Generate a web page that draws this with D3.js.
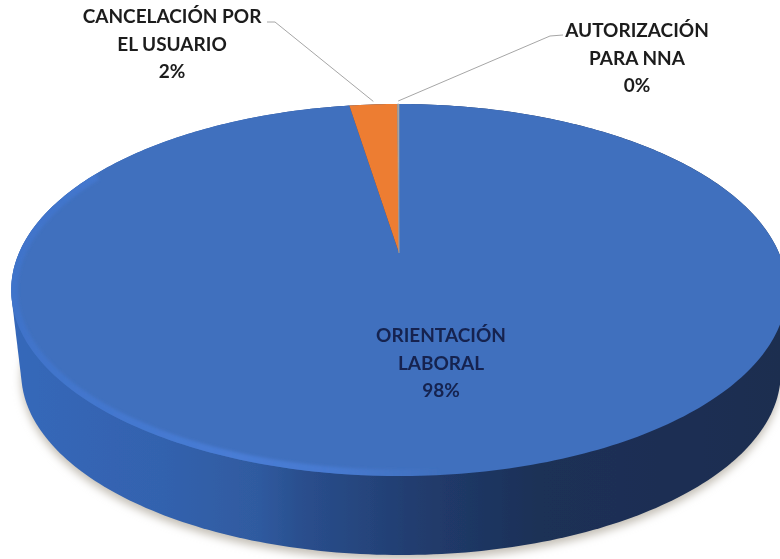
<!DOCTYPE html>
<html>
<head>
<meta charset="utf-8">
<script src="https://d3js.org/d3.v7.min.js"></script>
<style>
html,body{margin:0;padding:0;background:#fff;overflow:hidden;}
text{font-family:Lato,"Open Sans",sans-serif;font-weight:700;font-size:19px;text-anchor:middle;}
</style>
</head>
<body>
<div id="chart"></div>
<script>
var categories=[["ORIENTACIÓN","LABORAL"],["CANCELACIÓN POR","EL USUARIO"],["AUTORIZACIÓN","PARA NNA"]];
var values=[97.5,2.42,0.08];
var colors=["#3f6fbe","#ed7d31","#a5a5a5"];
var labelColors=["#14244f","#1c1c1c","#1c1c1c"];

var width=780,height=559;
var svg=d3.select("#chart").append("svg").attr("width",width).attr("height",height);
var defs=svg.append("defs");

//tilted disc: maps a point of the unit circle to the screen (the centre is not the middle of the ellipse)
var persp=0.199,faceX=399,faceK=380;
function project(angle,r){
    var u=Math.sin(angle)*r,v=Math.cos(angle)*r;
    return [faceX+faceK*u/(1+persp*v),(-128.3*v+253)/(1+persp*v)];
}
function toBottom(p){
    return [401+(p[0]-399)*380/388,373+(p[1]-290)*182/186];
}

var outline=d3.range(0,361,1).map(function(d){return project(d*Math.PI/180,1);});
var bottomOutline=outline.map(toBottom);
var line=d3.line();

var side=defs.append("linearGradient").attr("id","sideGrad")
    .attr("gradientUnits","userSpaceOnUse").attr("x1",10).attr("x2",780).attr("y1",0).attr("y2",0);
[[0,"#3668ba"],[0.2,"#3362ae"],[0.325,"#2f5a9f"],[0.377,"#2a4f8e"],[0.53,"#213c6e"],[0.69,"#1c3056"],[1,"#1a2d50"]].forEach(function(s){
    side.append("stop").attr("offset",s[0]).attr("stop-color",s[1]);
});
var rim=defs.append("linearGradient").attr("id","rimGrad")
    .attr("gradientUnits","userSpaceOnUse").attr("x1",10).attr("x2",780).attr("y1",0).attr("y2",0);
[[0,"#3f74cc",0.8],[0.3,"#4a7ed8",0.9],[0.42,"#4a7ed8",0.7],[0.56,"#4a7ed8",0]].forEach(function(s){
    rim.append("stop").attr("offset",s[0]).attr("stop-color",s[1]).attr("stop-opacity",s[2]);
});
function blur(id,dev){
    defs.append("filter").attr("id",id).attr("x","-10%").attr("y","-10%").attr("width","120%").attr("height","120%")
        .append("feGaussianBlur").attr("stdDeviation",dev);
}
blur("shadowBlur",4);
blur("soft",1.6);
blur("edge",0.7);
blur("textBlur",0.3);
defs.append("clipPath").attr("id","faceClip").append("path").attr("d",line(outline)+"Z");

//shadow
svg.append("path")
    .attr("d",line(bottomOutline.map(function(p){return [p[0],p[1]+5];}))+"Z")
    .attr("fill","#c4bfb6").attr("filter","url(#shadowBlur)");

//side of the disc
var hull=d3.polygonHull(outline.concat(bottomOutline));
svg.append("path").attr("d",line(hull)+"Z").attr("fill","url(#sideGrad)").attr("filter","url(#edge)");

//slices
var pie=d3.pie().sort(null).value(function(d){return d;});
var arcs=pie(values);
function slicePath(a){
    var n=Math.max(2,Math.ceil((a.endAngle-a.startAngle)*180/Math.PI));
    var pts=[project(0,0)];
    d3.range(n+1).forEach(function(i){
        pts.push(project(a.startAngle+(a.endAngle-a.startAngle)*i/n,1));
    });
    return line(pts)+"Z";
}
svg.append("g").attr("filter","url(#edge)").selectAll("path").data(arcs).join("path")
    .attr("d",slicePath)
    .attr("fill",function(d,i){return colors[i];})
    .attr("stroke",function(d,i){return i==2?colors[2]:"none";})
    .attr("stroke-width",0.6);

//bevel on the lower left of the face
svg.append("g").attr("clip-path","url(#faceClip)").append("path")
    .attr("d",line(outline.slice(175,300)))
    .attr("fill","none").attr("stroke","url(#rimGrad)").attr("stroke-width",13).attr("filter","url(#soft)");

//leader lines
var midAngle=function(a){return (a.startAngle+a.endAngle)/2;};
var leaders=[
    {from:[267,22],knee:[275,22],angle:midAngle(arcs[1]),dy:-3},
    {from:[563,35],knee:[550,36],angle:midAngle(arcs[2]),dy:-3}
];
svg.append("g").selectAll("path").data(leaders).join("path")
    .attr("d",function(d){
        var p=project(d.angle,1);
        return line([d.from,d.knee,[p[0],p[1]+d.dy]]);
    })
    .attr("fill","none").attr("stroke","#a6a6a6").attr("stroke-width",1);

//labels
var labelPos=[[441,342,27.5],[172,23,27.5],[637,37,27.5]];
var total=d3.sum(values);
var labels=svg.append("g").attr("filter","url(#textBlur)").selectAll("text").data(categories).join("text")
    .attr("fill",function(d,i){return labelColors[i];})
    .attr("transform",function(d,i){return "translate("+labelPos[i][0]+","+labelPos[i][1]+")";});
labels.each(function(d,i){
    var t=d3.select(this);
    d.concat(d3.format(".0%")(values[i]/total)).forEach(function(s,j){
        t.append("tspan").attr("x",0).attr("y",j*labelPos[i][2]).text(s);
    });
});
</script>
</body>
</html>
